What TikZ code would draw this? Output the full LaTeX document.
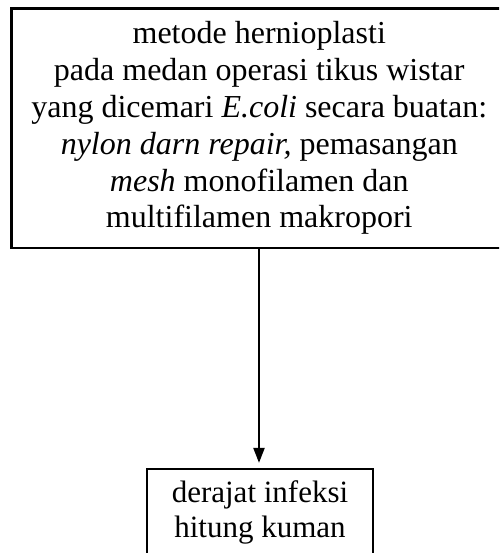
\documentclass[tikz,border=0pt]{standalone}
\usepackage{fontspec}
\setmainfont{Liberation Serif}
\usetikzlibrary{arrows.meta}
\begin{document}
\begin{tikzpicture}[x=1pt,y=-1pt,
  boxstyle/.style={draw=black,line width=2.2pt,inner sep=0pt,align=center},
  arrowstyle/.style={line width=2.2pt,-{Triangle[width=11pt,length=15pt]},shorten >=5pt}]
\useasboundingbox (0,0) rectangle (499,553);
\clip (0,0) rectangle (499,553);
\node[boxstyle,minimum width=495.5pt,minimum height=239.5pt,font=\fontsize{32}{36.8}\selectfont] (boxA) at (259.25,128.25)
  {metode hernioplasti\\pada medan operasi tikus wistar\\yang dicemari \textit{E.coli} secara buatan:\\\textit{nylon darn repair,} pemasangan\\\textit{mesh} monofilamen dan\\multifilamen makropori};
\node[boxstyle,minimum width=226pt,minimum height=87pt,font=\fontsize{31}{35}\selectfont] (boxB) at (260,512.5)
  {derajat infeksi\\hitung kuman};
\draw[arrowstyle] (boxA.south -| 259,0) -- (259,0 |- boxB.north);
\end{tikzpicture}
\end{document}
